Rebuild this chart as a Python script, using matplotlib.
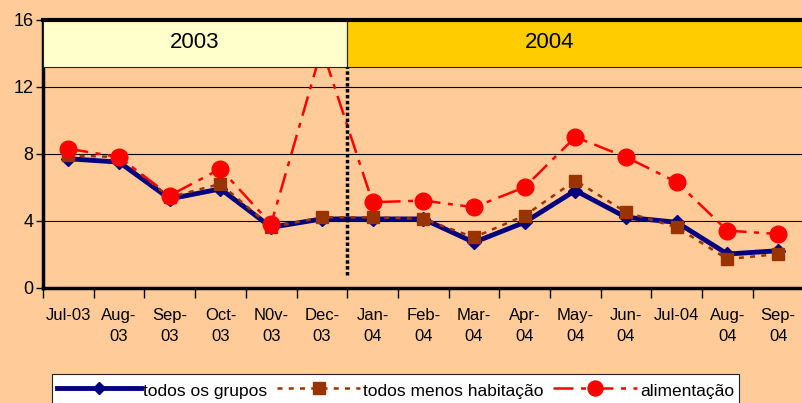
import matplotlib
matplotlib.use("Agg")
import matplotlib.pyplot as plt
from matplotlib.patches import Rectangle

plt.rcParams['font.family'] = ['Liberation Sans', 'DejaVu Sans']

months = ["Jul-03", "Aug-\n03", "Sep-\n03", "Oct-\n03", "N0v-\n03", "Dec-\n03",
          "Jan-\n04", "Feb-\n04", "Mar-\n04", "Apr-\n04", "May-\n04", "Jun-\n04",
          "Jul-04", "Aug-\n04", "Sep-\n04"]
todos_grupos = [7.7, 7.5, 5.3, 5.9, 3.6, 4.1, 4.1, 4.1, 2.7, 3.9, 5.8, 4.2, 3.9, 2.0, 2.2]
menos_habitacao = [7.9, 7.8, 5.4, 6.2, 3.6, 4.2, 4.2, 4.1, 3.0, 4.3, 6.4, 4.5, 3.6, 1.7, 2.0]
alimentacao = [8.3, 7.8, 5.5, 7.1, 3.8, 14.3, 5.1, 5.2, 4.8, 6.0, 9.0, 7.8, 6.3, 3.4, 3.2]
years = ["2003", "2004"]
labels = ["todos os grupos", "todos menos habitação", "alimentação"]

bg = '#FFCC99'
fig = plt.figure(figsize=(8.02, 4.03), dpi=100, facecolor=bg)
ax = fig.add_axes([43/802, 1-287.5/403, 760.5/802, 267.5/403])
ax.set_facecolor(bg)

x = list(range(len(months)))
ax.plot(x, todos_grupos, color='#000080', lw=3.5, marker='D', ms=7,
        zorder=3, label=labels[0])
ax.plot(x, menos_habitacao, color='#993300', lw=1.8, ls=(0, (2, 2.5)),
        marker='s', ms=9, zorder=4, label=labels[1])
ax.plot(x, alimentacao, color='#FF0000', lw=1.8, ls=(0, (8, 3, 2, 3)),
        marker='o', ms=12, zorder=5, label=labels[2])

# year header boxes
ax.add_patch(Rectangle((-0.5, 13.2), 6, 2.8, facecolor='#FFFFCC', edgecolor='#222222',
                       lw=0.8, zorder=6))
ax.add_patch(Rectangle((5.5, 13.2), 9, 2.8, facecolor='#FFCC00', edgecolor='#222222',
                       lw=0.8, zorder=6))
ax.text(2.5, 14.65, years[0], ha='center', va='center', fontsize=16, zorder=7)
ax.text(9.5, 14.65, years[1], ha='center', va='center', fontsize=16, zorder=7)

# separator dotted line
ax.plot([5.5, 5.5], [0.75, 13.2], color='black', lw=2.5, ls=(0, (1, 0.7)), zorder=6)

ax.set_xlim(-0.5, 14.5)
ax.set_ylim(0, 16)
ax.set_yticks([0, 4, 8, 12, 16])
ax.grid(axis='y', color='black', lw=0.8, zorder=1)
ax.set_axisbelow(True)

ax.set_xticks([i - 0.5 for i in range(16)])
ax.set_xticklabels([])
ax.set_xticks(x, minor=True)
ax.set_xticklabels(months, minor=True, fontsize=12, linespacing=1.45)
ax.tick_params(axis='x', which='major', length=7, width=1, direction='out')
ax.tick_params(axis='x', which='minor', length=0, pad=15)
ax.tick_params(axis='y', length=5, width=1, direction='out', labelsize=13, pad=2)

for s in ['left', 'bottom']:
    ax.spines[s].set_linewidth(2.5)
ax.spines['top'].set_linewidth(3)
ax.spines['top'].set_zorder(8)
ax.spines['right'].set_visible(False)

leg = fig.legend(loc='upper left', bbox_to_anchor=(52/802, 1-374/403), ncol=3,
                 fontsize=12.5, frameon=True, fancybox=False,
                 edgecolor='#222222', facecolor='white', framealpha=1, handlelength=4.8,
                 handleheight=1.6, handletextpad=0.17, columnspacing=0.55,
                 borderpad=0.3, borderaxespad=0, markerscale=0.9)
leg.get_frame().set_linewidth(0.8)

fig.savefig('out.png', dpi=100, facecolor=bg)
